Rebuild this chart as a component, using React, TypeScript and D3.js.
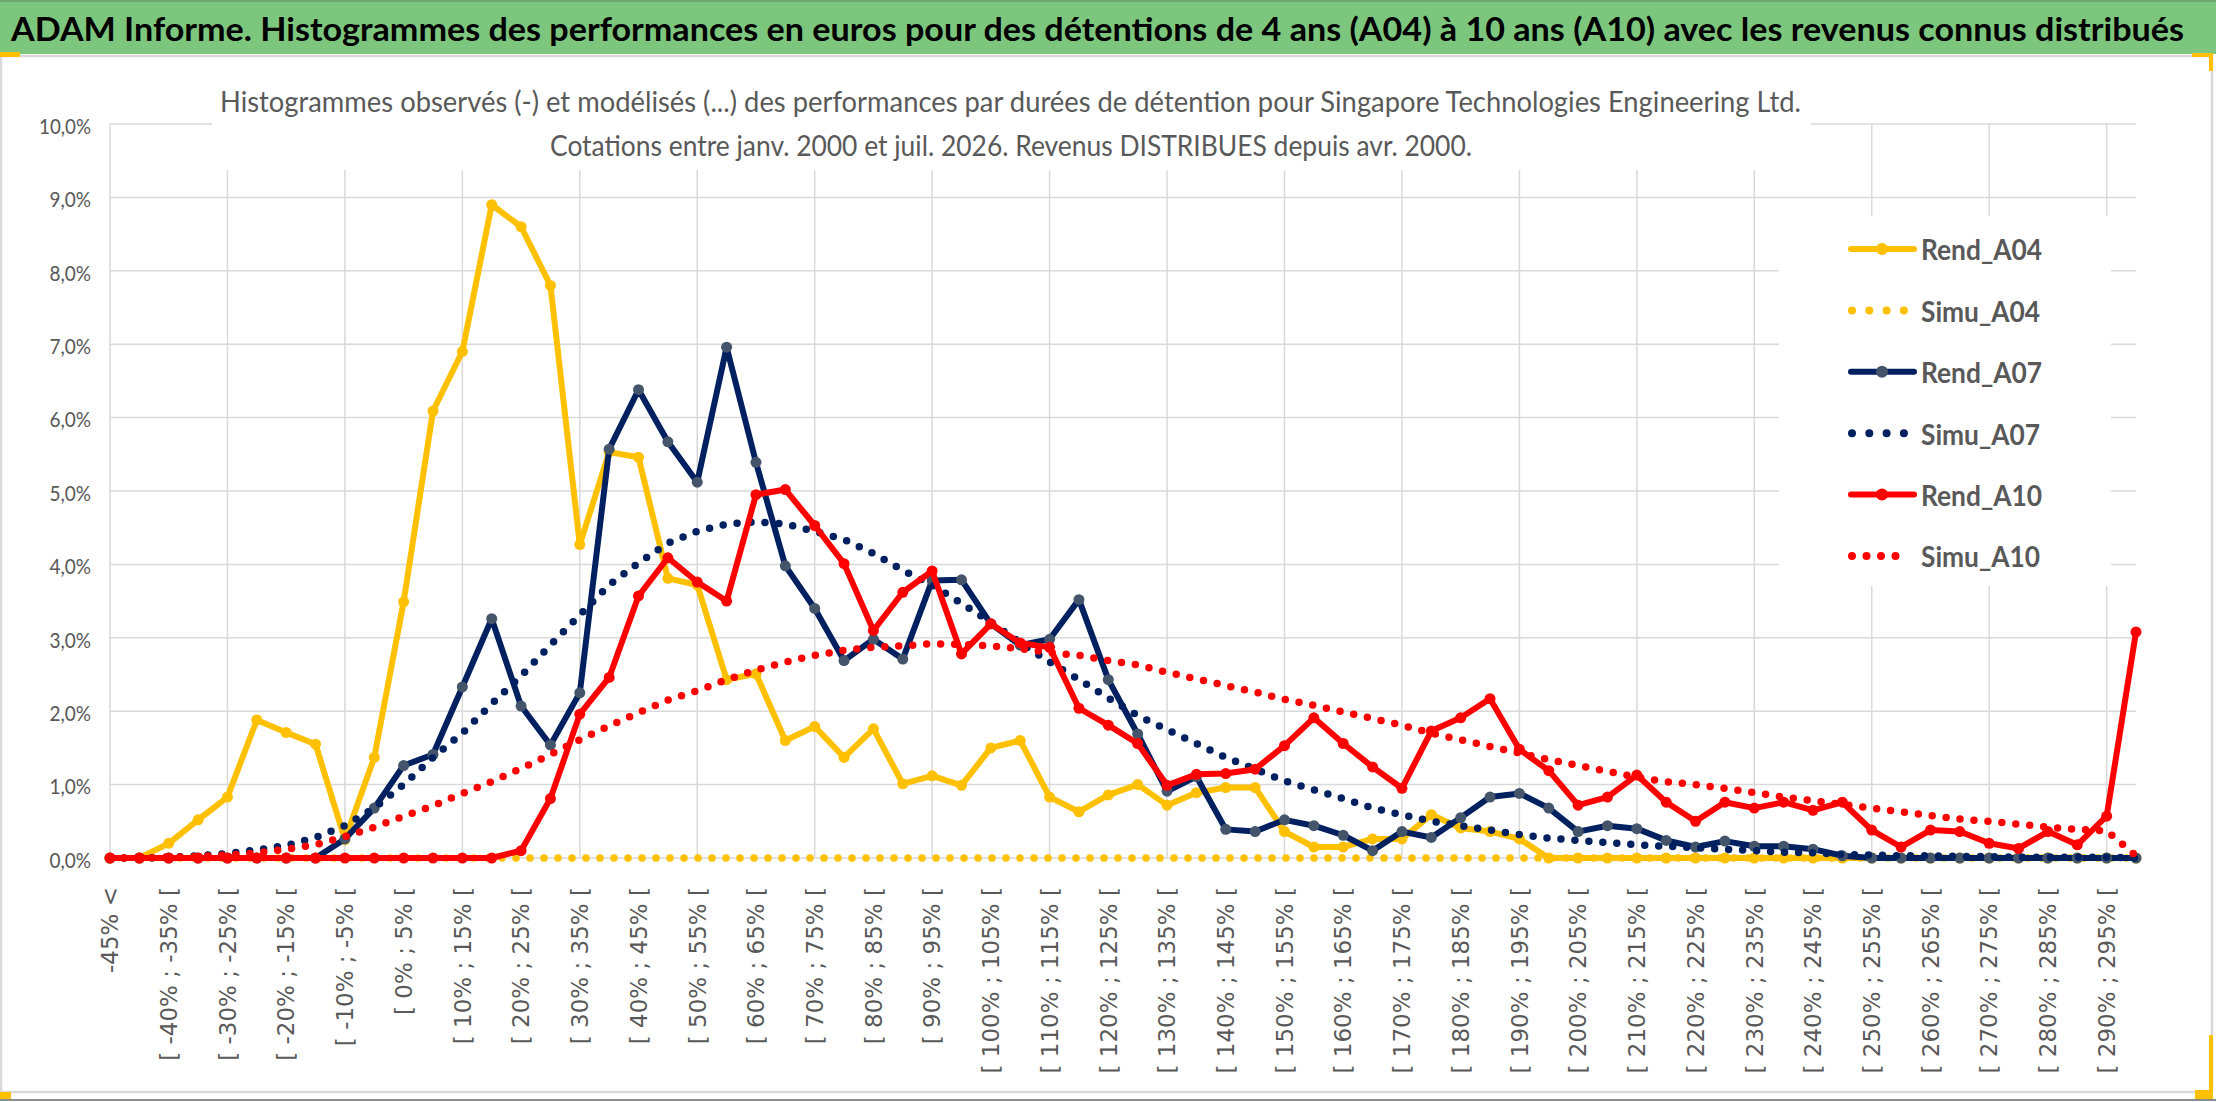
import * as d3 from 'd3';
import React from 'react';

// classes de performance (axe des x)
const categories = [
  '-45% <', '[ -45% ; -40% [', '[ -40% ; -35% [', '[ -35% ; -30% [', '[ -30% ; -25% [',
  '[ -25% ; -20% [', '[ -20% ; -15% [', '[ -15% ; -10% [', '[ -10% ; -5% [', '[ -5% ; 0% [',
  '[ 0% ; 5% [', '[ 5% ; 10% [', '[ 10% ; 15% [', '[ 15% ; 20% [', '[ 20% ; 25% [',
  '[ 25% ; 30% [', '[ 30% ; 35% [', '[ 35% ; 40% [', '[ 40% ; 45% [', '[ 45% ; 50% [',
  '[ 50% ; 55% [', '[ 55% ; 60% [', '[ 60% ; 65% [', '[ 65% ; 70% [', '[ 70% ; 75% [',
  '[ 75% ; 80% [', '[ 80% ; 85% [', '[ 85% ; 90% [', '[ 90% ; 95% [', '[ 95% ; 100% [',
  '[ 100% ; 105% [', '[ 105% ; 110% [', '[ 110% ; 115% [', '[ 115% ; 120% [', '[ 120% ; 125% [',
  '[ 125% ; 130% [', '[ 130% ; 135% [', '[ 135% ; 140% [', '[ 140% ; 145% [', '[ 145% ; 150% [',
  '[ 150% ; 155% [', '[ 155% ; 160% [', '[ 160% ; 165% [', '[ 165% ; 170% [', '[ 170% ; 175% [',
  '[ 175% ; 180% [', '[ 180% ; 185% [', '[ 185% ; 190% [', '[ 190% ; 195% [', '[ 195% ; 200% [',
  '[ 200% ; 205% [', '[ 205% ; 210% [', '[ 210% ; 215% [', '[ 215% ; 220% [', '[ 220% ; 225% [',
  '[ 225% ; 230% [', '[ 230% ; 235% [', '[ 235% ; 240% [', '[ 240% ; 245% [', '[ 245% ; 250% [',
  '[ 250% ; 255% [', '[ 255% ; 260% [', '[ 260% ; 265% [', '[ 265% ; 270% [', '[ 270% ; 275% [',
  '[ 275% ; 280% [', '[ 280% ; 285% [', '[ 285% ; 290% [', '[ 290% ; 295% [', '[ 295% ; 300% [',
];

// valeurs en %
const rendA04 = [
  0, 0, 0.2, 0.52, 0.83, 1.88, 1.71, 1.55, 0.25, 1.37,
  3.49, 6.09, 6.9, 8.9, 8.6, 7.8, 4.27, 5.53, 5.46, 3.81,
  3.72, 2.43, 2.51, 1.6, 1.79, 1.37, 1.76, 1.01, 1.12, 0.99,
  1.5, 1.6, 0.83, 0.63, 0.86, 1.0, 0.72, 0.89, 0.96, 0.96,
  0.36, 0.15, 0.15, 0.26, 0.26, 0.59, 0.41, 0.36, 0.26, 0,
  0, 0, 0, 0, 0, 0, 0, 0, 0, 0,
  0, 0, 0, 0, 0, 0, 0, 0, 0, 0,
];
const simuA04 = [
  0, 0, 0, 0, 0, 0, 0, 0, 0, 0,
  0, 0, 0, 0, 0, 0, 0, 0, 0, 0,
  0, 0, 0, 0, 0, 0, 0, 0, 0, 0,
  0, 0, 0, 0, 0, 0, 0, 0, 0, 0,
  0, 0, 0, 0, 0, 0, 0, 0, 0, 0,
  0, 0, 0, 0, 0, 0, 0, 0, 0, 0,
  0, 0, 0, 0, 0, 0, 0, 0, 0, 0,
];
const rendA07 = [
  0, 0, 0, 0, 0, 0, 0, 0, 0.26, 0.68,
  1.26, 1.41, 2.33, 3.26, 2.07, 1.54, 2.25, 5.57, 6.38, 5.67,
  5.12, 6.96, 5.39, 3.98, 3.4, 2.69, 2.98, 2.71, 3.78, 3.79,
  3.19, 2.9, 2.98, 3.52, 2.43, 1.69, 0.91, 1.11, 0.39, 0.36,
  0.52, 0.44, 0.31, 0.1, 0.36, 0.28, 0.55, 0.83, 0.88, 0.68,
  0.36, 0.44, 0.4, 0.24, 0.15, 0.23, 0.16, 0.16, 0.12, 0.03,
  0, 0, 0, 0, 0, 0, 0, 0, 0, 0,
];
const simuA07 = [
  0, 0, 0.01, 0.03, 0.06, 0.11, 0.17, 0.28, 0.44, 0.68,
  1.0, 1.37, 1.7, 2.1, 2.48, 2.9, 3.31, 3.72, 4.02, 4.29,
  4.45, 4.55, 4.58, 4.55, 4.45, 4.34, 4.15, 3.92, 3.72, 3.47,
  3.21, 2.93, 2.67, 2.43, 2.18, 1.94, 1.75, 1.56, 1.37, 1.21,
  1.05, 0.93, 0.81, 0.68, 0.59, 0.5, 0.44, 0.38, 0.32, 0.27,
  0.24, 0.21, 0.18, 0.16, 0.14, 0.12, 0.1, 0.08, 0.07, 0.05,
  0.04, 0.03, 0.03, 0.02, 0.02, 0.01, 0.01, 0.01, 0.01, 0,
];
const rendA10 = [
  0, 0, 0, 0, 0, 0, 0, 0, 0, 0,
  0, 0, 0, 0, 0.1, 0.81, 1.96, 2.46, 3.57, 4.09,
  3.76, 3.5, 4.95, 5.02, 4.53, 4.01, 3.1, 3.62, 3.91, 2.78,
  3.19, 2.93, 2.87, 2.04, 1.81, 1.56, 0.99, 1.14, 1.15, 1.21,
  1.53, 1.91, 1.56, 1.24, 0.95, 1.73, 1.91, 2.17, 1.48, 1.19,
  0.72, 0.83, 1.13, 0.76, 0.5, 0.76, 0.68, 0.76, 0.65, 0.76,
  0.38, 0.15, 0.38, 0.36, 0.2, 0.13, 0.36, 0.18, 0.57, 3.08,
];
const simuA10 = [
  0, 0, 0.01, 0.02, 0.04, 0.07, 0.12, 0.18, 0.29, 0.42,
  0.57, 0.71, 0.88, 1.04, 1.22, 1.41, 1.61, 1.8, 1.98, 2.15,
  2.28, 2.43, 2.56, 2.67, 2.76, 2.83, 2.87, 2.89, 2.92, 2.91,
  2.89, 2.85, 2.8, 2.76, 2.69, 2.63, 2.53, 2.44, 2.35, 2.26,
  2.16, 2.08, 1.99, 1.9, 1.81, 1.7, 1.61, 1.52, 1.43, 1.34,
  1.26, 1.18, 1.1, 1.04, 1.0, 0.95, 0.89, 0.83, 0.78, 0.73,
  0.68, 0.63, 0.58, 0.53, 0.5, 0.46, 0.42, 0.39, 0.37, 0.03,
];

const yTicks = [0, 1, 2, 3, 4, 5, 6, 7, 8, 9, 10];

const bannerTitle =
  'ADAM Informe. Histogrammes des performances en euros pour des détentions de 4 ans (A04) à 10 ans (A10) avec les revenus connus distribués';
const titleLine1 =
  'Histogrammes observés (-) et modélisés (...) des performances par durées de détention pour Singapore Technologies Engineering Ltd.';
const titleLine2 = 'Cotations entre janv. 2000 et juil. 2026. Revenus DISTRIBUES depuis avr. 2000.';

type Serie = { name: string; values: number[]; color: string; marker?: string; dotted: boolean };

const series: Serie[] = [
  { name: 'Rend_A04', values: rendA04, color: '#FFC000', marker: '#FFC000', dotted: false },
  { name: 'Simu_A04', values: simuA04, color: '#FFC000', dotted: true },
  { name: 'Rend_A07', values: rendA07, color: '#002060', marker: '#44546A', dotted: false },
  { name: 'Simu_A07', values: simuA07, color: '#002060', dotted: true },
  { name: 'Rend_A10', values: rendA10, color: '#FF0000', marker: '#FF0000', dotted: false },
  { name: 'Simu_A10', values: simuA10, color: '#FF0000', dotted: true },
];

const W = 2216;
const H = 1102;
const grid = '#D9D9D9';
const txt = '#595959';
const calibri = "Lato, 'Open Sans', sans-serif";

const App: React.FC = () => {
  const x = d3.scalePoint<string>().domain(categories).range([110, 2136]);
  const y = d3.scaleLinear().domain([0, 10]).range([858, 124]);
  const fmt = (v: number) => d3.format('.1f')(v).replace('.', ',') + '%';

  const line = d3
    .line<number>()
    .x((_, i) => x(categories[i]) ?? 0)
    .y(d => y(d));

  const legendY = (i: number) => 249 + i * 61.4;

  return (
    <svg
      width={W}
      height={H}
      style={{ position: 'absolute', left: 0, top: 0, background: '#fff', display: 'block' }}
    >
      {/* bandeau */}
      <rect x={0} y={0} width={W} height={54} fill="#7DC67E" />
      <line x1={0} x2={W} y1={1} y2={1} stroke="#6FA86F" strokeWidth={2} />
      <text
        x={11}
        y={41}
        textLength={2173}
        lengthAdjust="spacingAndGlyphs"
        fontFamily={calibri}
        fontWeight={700}
        fontSize={33}
        fill="#000"
      >
        {bannerTitle}
      </text>

      {/* cadre du graphique */}
      <rect x={1} y={56} width={2211} height={1036} fill="none" stroke={grid} strokeWidth={2.5} />
      <line x1={0} x2={W} y1={1100} y2={1100} stroke="#8C8C8C" strokeWidth={2} />
      <rect x={0} y={52} width={20} height={5} fill="#FFC000" />
      <rect x={0} y={1092} width={11} height={7} fill="#FFC000" />
      <rect x={2192} y={53} width={20} height={4} fill="#FFC000" />
      <rect x={2209} y={53} width={4} height={18} fill="#FFC000" />
      <rect x={2209} y={1035} width={4} height={58} fill="#FFC000" />
      <rect x={2195} y={1090} width={18} height={9} fill="#FFC000" />

      {/* grille */}
      {yTicks.map(t => (
        <line key={'h' + t} x1={110} x2={2136} y1={y(t)} y2={y(t)} stroke={grid} strokeWidth={1.5} />
      ))}
      {categories
        .filter((_, i) => i % 4 === 0)
        .map(c => (
          <line key={'v' + c} x1={x(c)} x2={x(c)} y1={y(10)} y2={y(0)} stroke={grid} strokeWidth={1.5} />
        ))}

      {/* zones blanches du titre et de la légende */}
      <rect x={212} y={80} width={1599} height={90} fill="#fff" />
      <rect x={1779} y={216} width={332} height={370} fill="#fff" />

      {/* séries */}
      {series.map(s => (
        <g key={s.name}>
          <path
            d={line(s.values) ?? ''}
            fill="none"
            stroke={s.color}
            strokeWidth={s.dotted ? 7.5 : 6}
            strokeLinecap="round"
            strokeLinejoin="round"
            strokeDasharray={s.dotted ? '0 14' : undefined}
          />
          {!s.dotted &&
            s.values.map((v, i) => (
              <circle key={i} cx={x(categories[i])} cy={y(v)} r={5.5} fill={s.marker} />
            ))}
        </g>
      ))}

      {/* axe y */}
      {yTicks.map(t => (
        <text
          key={'yl' + t}
          x={91}
          y={y(t) + 2}
          dy="0.35em"
          textAnchor="end"
          textLength={fmt(t).length * 10.4}
          lengthAdjust="spacingAndGlyphs"
          fontFamily={calibri}
          fontSize={22}
          fill={txt}
        >
          {fmt(t)}
        </text>
      ))}

      {/* axe x */}
      {categories.map((c, i) =>
        i % 2 === 0 ? (
          <text
            key={'xl' + c}
            transform={`translate(${x(c)},887) rotate(-90)`}
            textAnchor="end"
            dy="0.36em"
            fontFamily="'DejaVu Sans', sans-serif"
            fontSize={23}
            fill={txt}
          >
            {c}
          </text>
        ) : null
      )}

      {/* titre */}
      <text
        x={220}
        y={112}
        textLength={1581}
        lengthAdjust="spacingAndGlyphs"
        fontFamily={calibri}
        fontSize={28}
        fill={txt}
      >
        {titleLine1}
      </text>
      <text
        x={550}
        y={156}
        textLength={922}
        lengthAdjust="spacingAndGlyphs"
        fontFamily={calibri}
        fontSize={28}
        fill={txt}
      >
        {titleLine2}
      </text>

      {/* légende */}
      {series.map((s, i) => {
        const nDots = s.name === 'Simu_A10' ? 5 : 4;
        const gap = s.name === 'Simu_A10' ? 14.5 : 17.3;
        return (
          <g key={'lg' + s.name}>
            <line
              x1={s.dotted ? 1852 : 1851}
              x2={s.dotted ? 1852 + gap * (nDots - 1) : 1914}
              y1={legendY(i)}
              y2={legendY(i)}
              stroke={s.color}
              strokeWidth={s.dotted ? 8 : 6}
              strokeLinecap="round"
              strokeDasharray={s.dotted ? `0 ${gap}` : undefined}
            />
            {!s.dotted && <circle cx={1882} cy={legendY(i)} r={6} fill={s.marker} />}
            <text
              x={1921}
              y={legendY(i) + 1}
              dy="0.36em"
              textLength={s.name.startsWith('Rend') ? 121 : 119}
              lengthAdjust="spacingAndGlyphs"
              fontFamily={calibri}
              fontWeight={700}
              fontSize={29}
              fill={txt}
            >
              {s.name}
            </text>
          </g>
        );
      })}
    </svg>
  );
};

export default App;
